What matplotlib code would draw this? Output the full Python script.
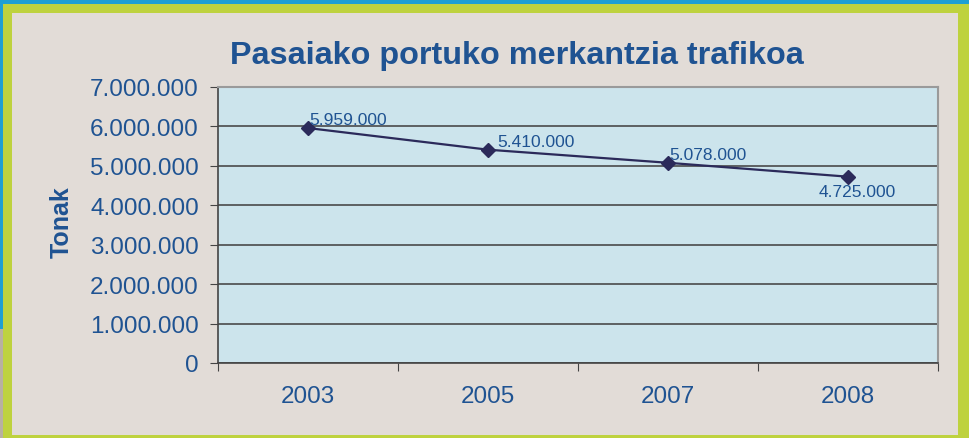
import matplotlib
matplotlib.use("Agg")
import matplotlib.pyplot as plt
from matplotlib.patches import Rectangle

years = ["2003", "2005", "2007", "2008"]
tonnes = [5959000, 5410000, 5078000, 4725000]
label_texts = ["5.959.000", "5.410.000", "5.078.000", "4.725.000"]
yticks = [0, 1000000, 2000000, 3000000, 4000000, 5000000, 6000000, 7000000]
ytick_labels = ["0", "1.000.000", "2.000.000", "3.000.000", "4.000.000",
                "5.000.000", "6.000.000", "7.000.000"]

plt.rcParams['font.family'] = ['Liberation Sans', 'DejaVu Sans']

W, H = 970, 439
fig = plt.figure(figsize=(W / 100, H / 100), dpi=100)
fig.patch.set_facecolor('#1E9FD3')

def px_rect(x0, y0, x1, y1, color, z):
    fig.patches.append(Rectangle((x0 / W, 1 - y1 / H), (x1 - x0) / W, (y1 - y0) / H,
                                 transform=fig.transFigure, facecolor=color,
                                 edgecolor='none', zorder=z))

px_rect(0, 330, 3, 439, '#B8B0A0', 0)
px_rect(3, 5, 972, 441, '#BED23E', 1)
px_rect(12, 14, 958, 436, '#E2DCD7', 2)

ax = fig.add_axes([218 / W, 1 - 364 / H, 720 / W, 276 / H])
ax.set_facecolor('#CCE4EC')
ax.set_zorder(5)

x = list(range(len(years)))
ax.plot(x, tonnes, color='#2B2A5A', lw=1.6, marker='D', markersize=7,
        markerfacecolor='#2B2A5A', markeredgecolor='#2B2A5A', zorder=4)

offsets = [(0.7, 3.2, 'left', 'baseline'), (7, 6, 'left', 'center'),
           (0.7, 6.0, 'left', 'center'), (6.5, -11, 'center', 'center')]
for xi, yi, t, (dx, dy, ha, va) in zip(x, tonnes, label_texts, offsets):
    ax.annotate(t, (xi, yi), xytext=(dx, dy), textcoords='offset points',
                ha=ha, va=va, fontsize=12.5, color='#1F5392', zorder=6)

ax.set_xlim(-0.5, len(years) - 0.5)
ax.set_ylim(0, 7000000)
ax.set_yticks(yticks)
ax.set_yticklabels(ytick_labels, fontsize=17.5, color='#1F5392')
ax.set_xticks([i - 0.5 for i in range(len(years) + 1)])
ax.set_xticklabels([])
ax.set_xticks(x, minor=True)
ax.set_xticklabels(years, minor=True, fontsize=17.5, color='#1F5392')
ax.tick_params(axis='x', which='minor', length=0, pad=16)
ax.tick_params(axis='x', which='major', length=6, color='#444444', direction='out')
ax.tick_params(axis='y', length=5.8, color='#444444', direction='out', pad=8)

ax.yaxis.grid(True, color='#4A4A4A', lw=1.2)
ax.set_axisbelow(True)
for s in ['top', 'right']:
    ax.spines[s].set_color('#9A9A9A')
    ax.spines[s].set_linewidth(1.5)
for s in ['left', 'bottom']:
    ax.spines[s].set_color('#444444')
    ax.spines[s].set_linewidth(1.2)

ax.set_ylabel('Tonak', fontsize=18, fontweight='bold', color='#1F5392')
ax.yaxis.set_label_coords(-0.201, 0.514)
fig.text(517 / W, 1 - 56 / H, 'Pasaiako portuko merkantzia trafikoa', ha='center',
         va='center', fontsize=23.3, fontweight='bold', color='#1F5392', zorder=10)

fig.savefig('out.png', dpi=100, facecolor=fig.get_facecolor())
